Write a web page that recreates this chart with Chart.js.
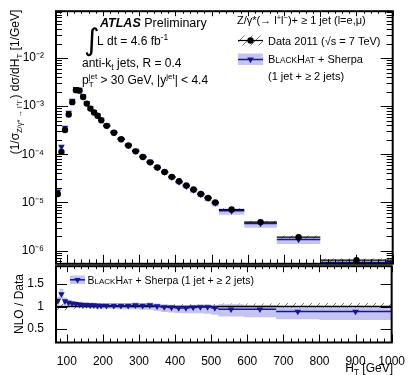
<!DOCTYPE html>
<html>
<head>
<meta charset="utf-8">
<script src="https://cdn.jsdelivr.net/npm/chart.js@4.4.1/dist/chart.umd.min.js"></script>
<style>
html,body{margin:0;padding:0;background:#ffffff;}
#wrap{position:relative;width:409px;height:375px;overflow:hidden;background:#ffffff;}
canvas{position:absolute;left:0;}
#cTop{top:0;}
#cBot{top:255px;}
</style>
</head>
<body>
<div id="wrap">
<canvas id="cTop" width="409" height="275"></canvas>
<canvas id="cBot" width="409" height="120"></canvas>
</div>
<script>
// ---------------- data ----------------
const binEdges = [70,80,90,100,110,120,130,140,150,160,170,180,190,200,
  220,240,260,280,300,320,340,360,380,400,420,440,460,480,500,520,590,680,800,1000];
const binCenters = [75,85,95,105,115,125,135,145,155,165,175,185,195,
  210,230,250,270,290,310,330,350,370,390,410,430,450,470,490,510,555,635,740,900];
// normalised data 1/sigma dsigma/dHT [1/GeV]
const dataValues = [1.5e-5,1.12e-4,3.2e-4,6.7e-4,1.21e-3,2.15e-3,2.1e-3,1.55e-3,1.13e-3,8.9e-4,7.4e-4,6.3e-4,5.1e-4,
  3.9e-4,2.8e-4,2.05e-4,1.52e-4,1.15e-4,8.8e-5,6.8e-5,5.3e-5,4.3e-5,3.4e-5,2.75e-5,2.25e-5,1.85e-5,1.5e-5,1.24e-5,1.0e-5,
  7.1e-6,3.9e-6,1.9e-6,6.3e-7];
// NLO / Data
const ratioValues = [1.13,1.28,1.12,1.09,1.07,1.06,1.05,1.04,1.04,1.03,1.03,1.02,1.02,
  1.02,1.02,1.02,1.02,1.03,1.02,1.03,1.01,0.99,0.98,0.97,0.97,0.98,0.99,0.99,0.97,
  0.94,0.94,0.89,0.89];
// NLO uncertainty band edges (ratio units)
const nloBandHigh = [1.22,1.40,1.20,1.15,1.13,1.12,1.11,1.10,1.10,1.09,1.09,1.08,1.08,
  1.08,1.08,1.08,1.08,1.09,1.08,1.09,1.07,1.05,1.04,1.03,1.03,1.04,1.05,1.05,1.03,
  1.05,1.03,0.98,0.98];
const nloBandLow = [1.04,1.17,1.04,1.02,1.00,0.99,0.98,0.97,0.97,0.96,0.96,0.95,0.95,
  0.95,0.95,0.94,0.94,0.94,0.93,0.93,0.91,0.88,0.87,0.86,0.85,0.85,0.85,0.84,0.82,
  0.78,0.76,0.72,0.70];
// data relative uncertainty (hatched)
const dataRelErr = [0.12,0.10,0.08,0.07,0.06,0.05,0.05,0.05,0.05,0.05,0.05,0.05,0.05,
  0.05,0.05,0.05,0.05,0.05,0.05,0.05,0.05,0.05,0.05,0.05,0.05,0.06,0.06,0.06,0.06,
  0.07,0.07,0.08,0.08];

const xTickValues = [100,200,300,400,500,600,700,800,900,1000];
const xTickLabels = ['100','200','300','400','500','600','700','800','900','1000'];
const yTopTickValues = [1e-6,1e-5,1e-4,1e-3,1e-2];
const yTopTickLabels = ['10\u207B\u2076','10\u207B\u2075','10\u207B\u2074','10\u207B\u00B3','10\u207B\u00B2'];
const yRatioTickValues = [0.5,1,1.5];
const yRatioTickLabels = ['0.5','1','1.5'];

// ---------------- styling ----------------
const FONT = "'Liberation Sans', Arial, Helvetica, sans-serif";
const BAND = '#c3c3f4';
const NAVY = '#16168e';
function fnt(size, style){ return (style ? style + ' ' : '') + size + 'px ' + FONT; }

function makeHatch(){
  const c = document.createElement('canvas'); c.width = 8; c.height = 8;
  const g = c.getContext('2d');
  g.strokeStyle = '#666'; g.lineWidth = 0.9;
  g.beginPath(); g.moveTo(-1,9); g.lineTo(9,-1); g.moveTo(-1,1); g.lineTo(1,-1); g.moveTo(7,9); g.lineTo(9,7); g.stroke();
  return document.getElementById('cTop').getContext('2d').createPattern(c,'repeat');
}
const HATCH = makeHatch();

function richWidth(ctx, parts){
  let w = 0;
  for (const p of parts){ ctx.font = fnt(p.s, p.st); if(!p.na) w += ctx.measureText(p.t).width; }
  return w;
}
function drawRich(ctx, x, y, parts, align){
  const w = richWidth(ctx, parts);
  let cx = align === 'right' ? x - w : (align === 'center' ? x - w/2 : x);
  ctx.textAlign = 'left'; ctx.textBaseline = 'alphabetic';
  for (const p of parts){
    ctx.font = fnt(p.s, p.st); ctx.fillStyle = p.c || '#000';
    ctx.fillText(p.t, cx, y + (p.dy || 0));
    if (!p.na) cx += ctx.measureText(p.t).width;
  }
}
function tri(ctx, x, y, r, color){
  ctx.fillStyle = color; ctx.beginPath();
  ctx.moveTo(x, y + r); ctx.lineTo(x - r*0.866, y - r*0.5); ctx.lineTo(x + r*0.866, y - r*0.5);
  ctx.closePath(); ctx.fill();
}

// ---------------- helpers building dataset points ----------------
function steps(vals){ const o=[]; vals.forEach((v,i)=>{ o.push({x:binEdges[i],y:v},{x:binEdges[i+1],y:v}); }); return o; }
function segs(vals){ const o=[]; vals.forEach((v,i)=>{ o.push({x:binEdges[i],y:v},{x:binEdges[i+1],y:v},{x:binEdges[i+1],y:null}); }); return o; }
function pts(vals){ return vals.map((v,i)=>({x:binCenters[i],y:v})); }

const nloValues = dataValues.map((d,i)=>d*ratioValues[i]);
const noLine = {borderWidth:0, borderColor:'rgba(0,0,0,0)', pointRadius:0};

const xMinorTicks = []; for (let v=80; v<1000; v+=20){ if (v % 100 !== 0) xMinorTicks.push(v); }
const yTopMinorTicks = []; for (let k=-7;k<=-2;k++){ for(let m=2;m<=9;m++){ const v=m*Math.pow(10,k); if(v>5.3e-7 && v<0.094) yTopMinorTicks.push(v);} }

function framePlugin(cfg){
  return { id:'frame_'+cfg.name, afterDraw(chart){
    const ctx=chart.ctx, a=chart.chartArea, xs=chart.scales.x, ys=chart.scales.y;
    ctx.save(); ctx.strokeStyle='#000'; ctx.lineWidth=1; ctx.beginPath();
    const xt=(v,len,lenTop)=>{ const p=Math.round(xs.getPixelForValue(v))+0.5; ctx.moveTo(p,a.bottom); ctx.lineTo(p,a.bottom-len); ctx.moveTo(p,a.top); ctx.lineTo(p,a.top+lenTop); };
    const yt=(v,len)=>{ const p=Math.round(ys.getPixelForValue(v))+0.5; ctx.moveTo(a.left,p); ctx.lineTo(a.left+len,p); ctx.moveTo(a.right,p); ctx.lineTo(a.right-len,p); };
    xTickValues.forEach(v=>xt(v,cfg.xMaj,cfg.xMajT)); xMinorTicks.forEach(v=>xt(v,cfg.xMin,cfg.xMinT));
    cfg.yMajor.forEach(v=>yt(v,cfg.yMaj)); cfg.yMinor.forEach(v=>yt(v,cfg.yMin));
    ctx.stroke();
    ctx.lineWidth=2; ctx.strokeRect(a.left,a.top,a.right-a.left,a.bottom-a.top);
    ctx.restore();
  }};
}

const topText = { id:'topText', afterDraw(chart){
  const ctx = chart.ctx; ctx.save();
  // y title
  ctx.save(); ctx.translate(18.5, 82); ctx.rotate(-Math.PI/2);
  drawRich(ctx, 0, 0, [
    {t:'(1/\u03C3', s:12},
    {t:'Z/\u03B3* \u2192 l\u207Al\u207B', s:7.5, dy:3},
    {t:') d\u03C3/dH', s:12},
    {t:'T', s:8, dy:3},
    {t:' [1/GeV]', s:12}
  ], 'center');
  ctx.restore();
  // ATLAS label
  drawRich(ctx, 100, 27, [{t:'ATLAS', s:12.5, st:'italic bold'},{t:' Preliminary', s:12.5}]);
  ctx.font = "30px 'DejaVu Sans'"; ctx.fillStyle='#000'; ctx.textBaseline='alphabetic'; ctx.textAlign='left';
  ctx.fillText('\u222B', 84, 50);
  drawRich(ctx, 97, 45, [{t:'L dt = 4.6 fb', s:12},{t:'-1', s:8.5, dy:-5}]);
  drawRich(ctx, 82, 67, [{t:'anti-k', s:12},{t:'t', s:8.5, dy:3},{t:' jets, R = 0.4', s:12}]);
  drawRich(ctx, 82, 84, [{t:'p', s:12},{t:'T', s:8, dy:3, na:true},{t:'jet', s:8, dy:-5},
    {t:' > 30 GeV, |y', s:12},{t:'jet', s:8, dy:-5},{t:'| < 4.4', s:12}]);
  // legend
  drawRich(ctx, 237, 23.5, [{t:'Z/\u03B3*(\u2192 l', s:11},{t:'+', s:7.5, dy:-4},{t:'l', s:11},{t:'\u2212', s:7.5, dy:-4},{t:')+ \u2265 1 jet (l=e,\u03BC)', s:11}]);
  ctx.fillStyle = HATCH; ctx.fillRect(238, 35.5, 25, 10);
  ctx.strokeStyle='#000'; ctx.lineWidth=1.2; ctx.beginPath(); ctx.moveTo(238,40.5); ctx.lineTo(263,40.5); ctx.stroke();
  ctx.fillStyle='#000'; ctx.beginPath(); ctx.arc(250.5,40.5,3.2,0,Math.PI*2); ctx.fill();
  drawRich(ctx, 268, 44.5, [{t:'Data 2011 (\u221As = 7 TeV)', s:11}]);
  ctx.fillStyle = BAND; ctx.fillRect(238, 53.5, 25, 11.5);
  ctx.strokeStyle=NAVY; ctx.lineWidth=1.5; ctx.beginPath(); ctx.moveTo(238,59.5); ctx.lineTo(263,59.5); ctx.stroke();
  tri(ctx, 250.5, 59.5, 3.8, NAVY);
  drawRich(ctx, 268, 63, [{t:'B', s:11},{t:'LACK', s:8.3},{t:'H', s:11},{t:'AT', s:8.3},{t:' + Sherpa', s:11}]);
  drawRich(ctx, 268, 80, [{t:'(1 jet + \u2265 2 jets)', s:11}]);
  ctx.restore();
}};

const botText = { id:'botText', afterDraw(chart){
  const ctx = chart.ctx; ctx.save();
  ctx.save(); ctx.translate(22.5, 49); ctx.rotate(-Math.PI/2);
  drawRich(ctx, 0, 0, [{t:'NLO / Data', s:12}], 'center');
  ctx.restore();
  drawRich(ctx, 393, 116.5, [{t:'H', s:12},{t:'T', s:8.5, dy:3},{t:' [GeV]', s:12}], 'right');
  ctx.fillStyle = BAND; ctx.fillRect(70, 20.5, 15, 8.5);
  ctx.strokeStyle=NAVY; ctx.lineWidth=1.5; ctx.beginPath(); ctx.moveTo(70,24.8); ctx.lineTo(85,24.8); ctx.stroke();
  tri(ctx, 77.5, 24.8, 3.6, NAVY);
  drawRich(ctx, 87.5, 28.5, [{t:'B', s:10.5},{t:'LACK', s:8},{t:'H', s:10.5},{t:'AT', s:8},{t:' + Sherpa (1 jet + \u2265 2 jets)', s:10.5}]);
  ctx.restore();
}};

Chart.defaults.font.family = FONT;
Chart.defaults.color = '#000';

// ---------------- top panel ----------------
new Chart(document.getElementById('cTop'), {
  type:'line',
  data:{ datasets:[
    Object.assign({data:steps(dataValues.map((d,i)=>d*nloBandHigh[i])), fill:'+1', backgroundColor:BAND, order:6}, noLine),
    Object.assign({data:steps(dataValues.map((d,i)=>d*nloBandLow[i])), fill:false, order:6}, noLine),
    Object.assign({data:steps(dataValues.map((d,i)=>d*(1+dataRelErr[i]))), fill:'+1', backgroundColor:HATCH, order:5}, noLine),
    Object.assign({data:steps(dataValues.map((d,i)=>d*(1-dataRelErr[i]))), fill:false, order:5}, noLine),
    {data:segs(nloValues), borderColor:NAVY, borderWidth:1.5, pointRadius:0, fill:false, order:4},
    {data:segs(dataValues), borderColor:'#000', borderWidth:1.2, pointRadius:0, fill:false, order:3},
    {data:pts(nloValues), showLine:false, pointStyle:'triangle', pointRotation:180, pointRadius:3.8,
      pointBackgroundColor:NAVY, pointBorderColor:NAVY, pointBorderWidth:0, order:2},
    {data:pts(dataValues), showLine:false, pointStyle:'circle', pointRadius:3.2,
      pointBackgroundColor:'#000', pointBorderColor:'#000', pointBorderWidth:0, order:1}
  ]},
  options:{
    responsive:false, animation:false, devicePixelRatio:1, events:[],
    layout:{padding:{left:0, right:16.3, top:9.5, bottom:9.5}},
    plugins:{legend:{display:false}, tooltip:{enabled:false}},
    scales:{
      x:{type:'linear', min:70, max:1000, display:false},
      y:{type:'logarithmic', min:5.3e-7, max:0.094,
        grid:{display:false}, border:{display:false},
        afterBuildTicks:(s)=>{ s.ticks = yTopTickValues.map(v=>({value:v})); },
        afterFit:(s)=>{ s.width = 56; },
        ticks:{padding:4, autoSkip:false, font:{size:12, family:FONT}, color:'#000',
          callback:(v,i)=>yTopTickLabels[i]}
      }
    }
  },
  plugins:[framePlugin({name:'top', xMaj:9, xMin:4.5, xMajT:5, xMinT:2.5, yMajor:yTopTickValues, yMinor:yTopMinorTicks, yMaj:12, yMin:6}), topText]
});

// ---------------- ratio panel ----------------
new Chart(document.getElementById('cBot'), {
  type:'line',
  data:{ datasets:[
    Object.assign({data:steps(dataRelErr.map(e=>1+e)), fill:'+1', backgroundColor:HATCH, order:7}, noLine),
    Object.assign({data:steps(dataRelErr.map(e=>1-e)), fill:false, order:7}, noLine),
    Object.assign({data:steps(nloBandHigh), fill:'+1', backgroundColor:BAND, order:6}, noLine),
    Object.assign({data:steps(nloBandLow), fill:false, order:6}, noLine),
    {data:[{x:70,y:1},{x:1000,y:1}], borderColor:'#000', borderWidth:1.5, pointRadius:0, fill:false, order:4},
    {data:segs(ratioValues), borderColor:NAVY, borderWidth:1.5, pointRadius:0, fill:false, order:3},
    {data:pts(ratioValues), showLine:false, pointStyle:'triangle', pointRotation:180, pointRadius:3.8,
      pointBackgroundColor:NAVY, pointBorderColor:NAVY, pointBorderWidth:0, order:2}
  ]},
  options:{
    responsive:false, animation:false, devicePixelRatio:1, events:[],
    layout:{padding:{left:0, right:16.3, top:10.5, bottom:0}},
    plugins:{legend:{display:false}, tooltip:{enabled:false}},
    scales:{
      x:{type:'linear', min:70, max:1000, grid:{display:false}, border:{display:false},
        afterBuildTicks:(s)=>{ s.ticks = xTickValues.map(v=>({value:v})); },
        afterFit:(s)=>{ s.height = 32.5; },
        ticks:{padding:4, autoSkip:false, maxRotation:0, font:{size:12, family:FONT}, color:'#000',
          callback:(v,i)=>xTickLabels[i]}
      },
      y:{type:'linear', min:0.2, max:1.9, grid:{display:false}, border:{display:false},
        afterBuildTicks:(s)=>{ s.ticks = yRatioTickValues.map(v=>({value:v})); },
        afterFit:(s)=>{ s.width = 56; },
        ticks:{padding:4, autoSkip:false, font:{size:12, family:FONT}, color:'#000',
          callback:(v,i)=>yRatioTickLabels[i]}
      }
    }
  },
  plugins:[framePlugin({name:'bot', xMaj:8, xMin:4, xMajT:6, xMinT:3, yMajor:yRatioTickValues, yMinor:[], yMaj:11, yMin:5}), botText]
});
</script>
</body>
</html>
